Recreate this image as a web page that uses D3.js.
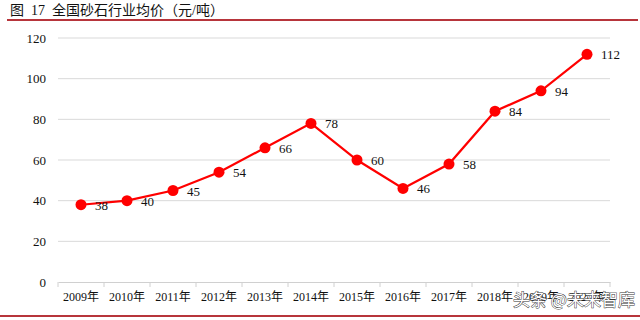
<!DOCTYPE html>
<html>
<head>
<meta charset="utf-8">
<script src="https://cdn.jsdelivr.net/npm/d3@7"></script>
<style>
  body { margin: 0; background: #fff; }
  svg { display: block; }
</style>
</head>
<body>
<div id="graph"></div>
<script>
"use strict";
(function() {
    const years = ["2009年", "2010年", "2011年", "2012年", "2013年", "2014年",
                   "2015年", "2016年", "2017年", "2018年", "2019年", "2020年"];
    const prices = [38, 40, 45, 54, 66, 78, 60, 46, 58, 84, 94, 112];
    const yTicks = [0, 20, 40, 60, 80, 100, 120];
    const title = "图  17  全国砂石行业均价（元/吨）";
    const watermark = "头条 @未来智库";

    const width = 640, height = 320;
    const plot = { left: 58, right: 610, top: 38, bottom: 282 };
    const red = "#ff0000";
    const frameRed = "#b7353b";
    const serif = "'Liberation Serif', 'Times New Roman', serif";
    const cjk = "'Liberation Serif', 'Noto Sans CJK SC', serif";

    let svg = d3.select("#graph").append("svg")
        .attr("width", width)
        .attr("height", height);

    // title and frame lines
    svg.append("text")
        .attr("x", 10).attr("y", 15)
        .attr("font-family", cjk)
        .attr("font-size", 14)
        .attr("fill", "#111")
        .style("white-space", "pre")
        .text(title);
    svg.append("line")
        .attr("x1", 7).attr("x2", 638).attr("y1", 20).attr("y2", 20)
        .attr("stroke", frameRed).attr("stroke-width", 2);
    svg.append("line")
        .attr("x1", 0).attr("x2", 640).attr("y1", 316).attr("y2", 316)
        .attr("stroke", frameRed).attr("stroke-width", 2);

    let x = d3.scaleBand().domain(years).range([plot.left, plot.right]);
    let y = d3.scaleLinear().domain([0, 120]).range([plot.bottom, plot.top]);

    // gridlines
    svg.append("g")
        .selectAll("line")
        .data(yTicks.filter(d => d > 0))
        .enter().append("line")
            .attr("x1", plot.left).attr("x2", plot.right)
            .attr("y1", d => y(d)).attr("y2", d => y(d))
            .attr("stroke", "#d9d9d9").attr("stroke-width", 1);

    // y axis labels
    let yAxis = svg.append("g")
        .attr("transform", "translate(" + plot.left + ",0)")
        .call(d3.axisLeft(y).tickValues(yTicks).tickSize(0).tickPadding(12));
    yAxis.select(".domain").remove();
    yAxis.selectAll("text")
        .attr("font-family", serif).attr("font-size", 13).attr("fill", "#111");

    // x axis
    let xAxis = svg.append("g")
        .attr("transform", "translate(0," + plot.bottom + ")")
        .call(d3.axisBottom(x).tickSize(0).tickPadding(10));
    xAxis.select(".domain").attr("stroke", "#d0d0d0");
    xAxis.selectAll("text")
        .attr("font-family", cjk).attr("font-size", 12).attr("fill", "#111");
    xAxis.selectAll(".bound")
        .data(d3.range(years.length + 1))
        .enter().append("line")
            .attr("class", "bound")
            .attr("x1", i => plot.left + i * x.bandwidth())
            .attr("x2", i => plot.left + i * x.bandwidth())
            .attr("y1", 0).attr("y2", 5)
            .attr("stroke", "#d0d0d0");

    // line + markers
    let cx = (d, i) => x(years[i]) + x.bandwidth() / 2;
    svg.append("path")
        .datum(prices)
        .attr("fill", "none")
        .attr("stroke", red)
        .attr("stroke-width", 2.2)
        .attr("d", d3.line().x(cx).y(d => y(d)));

    svg.selectAll("circle.pt")
        .data(prices)
        .enter().append("circle")
            .attr("class", "pt")
            .attr("cx", cx)
            .attr("cy", d => y(d))
            .attr("r", 5.5)
            .attr("fill", red);

    svg.selectAll("text.lbl")
        .data(prices)
        .enter().append("text")
            .attr("class", "lbl")
            .attr("x", (d, i) => cx(d, i) + 14)
            .attr("y", d => y(d) + 5)
            .attr("font-family", serif)
            .attr("font-size", 13)
            .attr("fill", "#111")
            .text(d => d);

    // watermark overlay (sits over the last axis labels, as in the source)
    svg.append("text")
        .attr("x", 513).attr("y", 306)
        .attr("font-family", "'Noto Sans CJK SC', sans-serif")
        .attr("font-size", 17)
        .attr("fill", "#fff")
        .attr("stroke", "#333")
        .attr("stroke-width", 0.9)
        .attr("paint-order", "stroke")
        .text(watermark);
})();
</script>
</body>
</html>
